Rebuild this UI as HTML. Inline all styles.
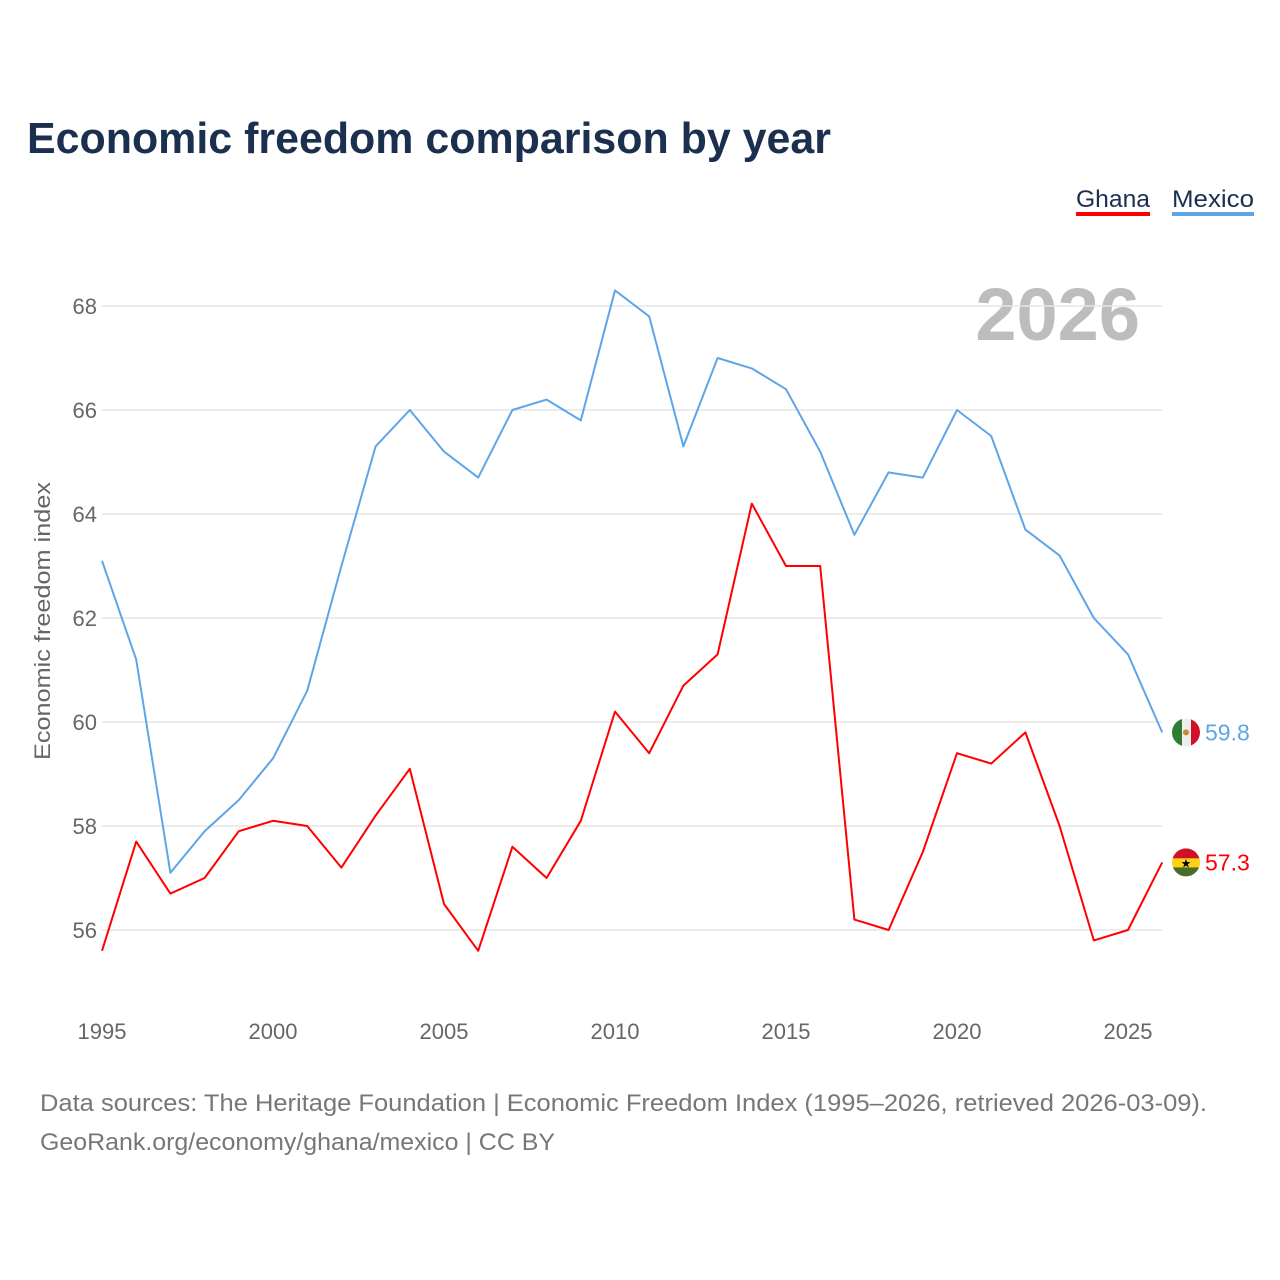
<!DOCTYPE html>
<html><head><meta charset="utf-8">
<style>
html,body{margin:0;padding:0;background:#fff;}
body{width:1280px;height:1280px;position:relative;font-family:"Liberation Sans",sans-serif;overflow:hidden;}
</style></head>
<body>
<svg id="chart" width="1280" height="1280" xmlns="http://www.w3.org/2000/svg" style="position:absolute;left:0;top:0">
<text x="27" y="153" font-size="44" font-weight="bold" fill="#1b2f4e" textLength="804" lengthAdjust="spacingAndGlyphs">Economic freedom comparison by year</text>
<g>
<text x="1076" y="207" font-size="24" fill="#1b2f4e" textLength="74" lengthAdjust="spacingAndGlyphs">Ghana</text>
<rect x="1076" y="212" width="74" height="4" fill="#ff0000"/>
<text x="1172" y="207" font-size="24" fill="#1b2f4e" textLength="82" lengthAdjust="spacingAndGlyphs">Mexico</text>
<rect x="1172" y="212" width="82" height="4" fill="#5ea5e8"/>
</g>
<text x="1140" y="340" text-anchor="end" font-size="74" font-weight="bold" fill="#bdbdbd">2026</text>
<text transform="translate(50,621) rotate(-90)" text-anchor="middle" font-size="22" fill="#666" textLength="278" lengthAdjust="spacingAndGlyphs">Economic freedom index</text>
<g id="grid"></g><g id="lines"></g><g id="labels"></g>
<text x="40" y="1111" font-size="24" fill="#777" textLength="1167" lengthAdjust="spacingAndGlyphs">Data sources: The Heritage Foundation | Economic Freedom Index (1995–2026, retrieved 2026-03-09).</text>
<text x="40" y="1150" font-size="24" fill="#777" textLength="515" lengthAdjust="spacingAndGlyphs">GeoRank.org/economy/ghana/mexico | CC BY</text>
</svg>
<script>
const years = [1995,1996,1997,1998,1999,2000,2001,2002,2003,2004,2005,2006,2007,2008,2009,2010,2011,2012,2013,2014,2015,2016,2017,2018,2019,2020,2021,2022,2023,2024,2025,2026];
const mexico = [63.1,61.2,57.1,57.9,58.5,59.3,60.6,63.0,65.3,66.0,65.2,64.7,66.0,66.2,65.8,68.3,67.8,65.3,67.0,66.8,66.4,65.2,63.6,64.8,64.7,66.0,65.5,63.7,63.2,62.0,61.3,59.8];
const ghana = [55.6,57.7,56.7,57.0,57.9,58.1,58.0,57.2,58.2,59.1,56.5,55.6,57.6,57.0,58.1,60.2,59.4,60.7,61.3,64.2,63.0,63.0,56.2,56.0,57.5,59.4,59.2,59.8,58.0,55.8,56.0,57.3];
const yTicks = [56,58,60,62,64,66,68];
const xTicks = [1995,2000,2005,2010,2015,2020,2025];

const NS="http://www.w3.org/2000/svg";
const xs = y => 102 + (y-1995)*34.2;
const ys = v => 930 - (v-56)*52;
function mk(tag, attrs, parent){const e=document.createElementNS(NS,tag);for(const k in attrs)e.setAttribute(k,attrs[k]);parent.appendChild(e);return e;}
const grid=document.getElementById('grid'), lines=document.getElementById('lines'), labels=document.getElementById('labels');
yTicks.forEach(t=>{
  const l=mk('line',{x1:102,x2:1162,y1:ys(t),y2:ys(t),stroke:'#e6e6e6','stroke-width':1.5},grid);
  
  
  const tx=mk('text',{x:97,y:ys(t)+8,'text-anchor':'end','font-size':22,fill:'#666'},grid);
  tx.textContent=t;
  
  
});
xTicks.forEach(t=>{
  const tx=mk('text',{x:xs(t),y:1039,'text-anchor':'middle','font-size':22,fill:'#666'},grid);
  tx.textContent=t;
  
  
});
function series(vals,color,name){
  const d=vals.map((v,i)=>(i?'L':'M')+xs(years[i]).toFixed(1)+','+ys(v).toFixed(1)).join(' ');
  const p=mk('path',{d:d,fill:'none',stroke:color,'stroke-width':2,'stroke-linejoin':'round'},lines);
  
  
  const last=vals[vals.length-1];
  const t=mk('text',{x:1205,y:ys(last)+8,'font-size':23,fill:color},labels);
  t.textContent=last.toFixed(1);
  
  
  return ys(last);
}
const my=series(mexico,'#5ea5e8','mexico');
const gy=series(ghana,'#ff0000','ghana');
const cx=1186;
const fm=mk('g',{},labels);


const cm=mk('clipPath',{id:'cm'},fm);mk('circle',{cx:cx,cy:my,r:14},cm);
mk('rect',{x:cx-14,y:my-14,width:10,height:28,fill:'#2e7d32','clip-path':'url(#cm)'},fm);
mk('rect',{x:cx-4,y:my-14,width:9,height:28,fill:'#eee','clip-path':'url(#cm)'},fm);
mk('rect',{x:cx+5,y:my-14,width:10,height:28,fill:'#d3102a','clip-path':'url(#cm)'},fm);
mk('circle',{cx:cx,cy:my,r:3,fill:'#c98a2b'},fm);
const fg=mk('g',{},labels);


const cg=mk('clipPath',{id:'cg'},fg);mk('circle',{cx:cx,cy:gy,r:14},cg);
mk('rect',{x:cx-14,y:gy-14,width:28,height:10,fill:'#ce1126','clip-path':'url(#cg)'},fg);
mk('rect',{x:cx-14,y:gy-4,width:28,height:9,fill:'#fcd116','clip-path':'url(#cg)'},fg);
mk('rect',{x:cx-14,y:gy+5,width:28,height:10,fill:'#4a6b2a','clip-path':'url(#cg)'},fg);
const st=mk('text',{x:cx,y:gy+5,'text-anchor':'middle','font-size':12,fill:'#000'},fg);st.textContent='★';
</script>
</body></html>
